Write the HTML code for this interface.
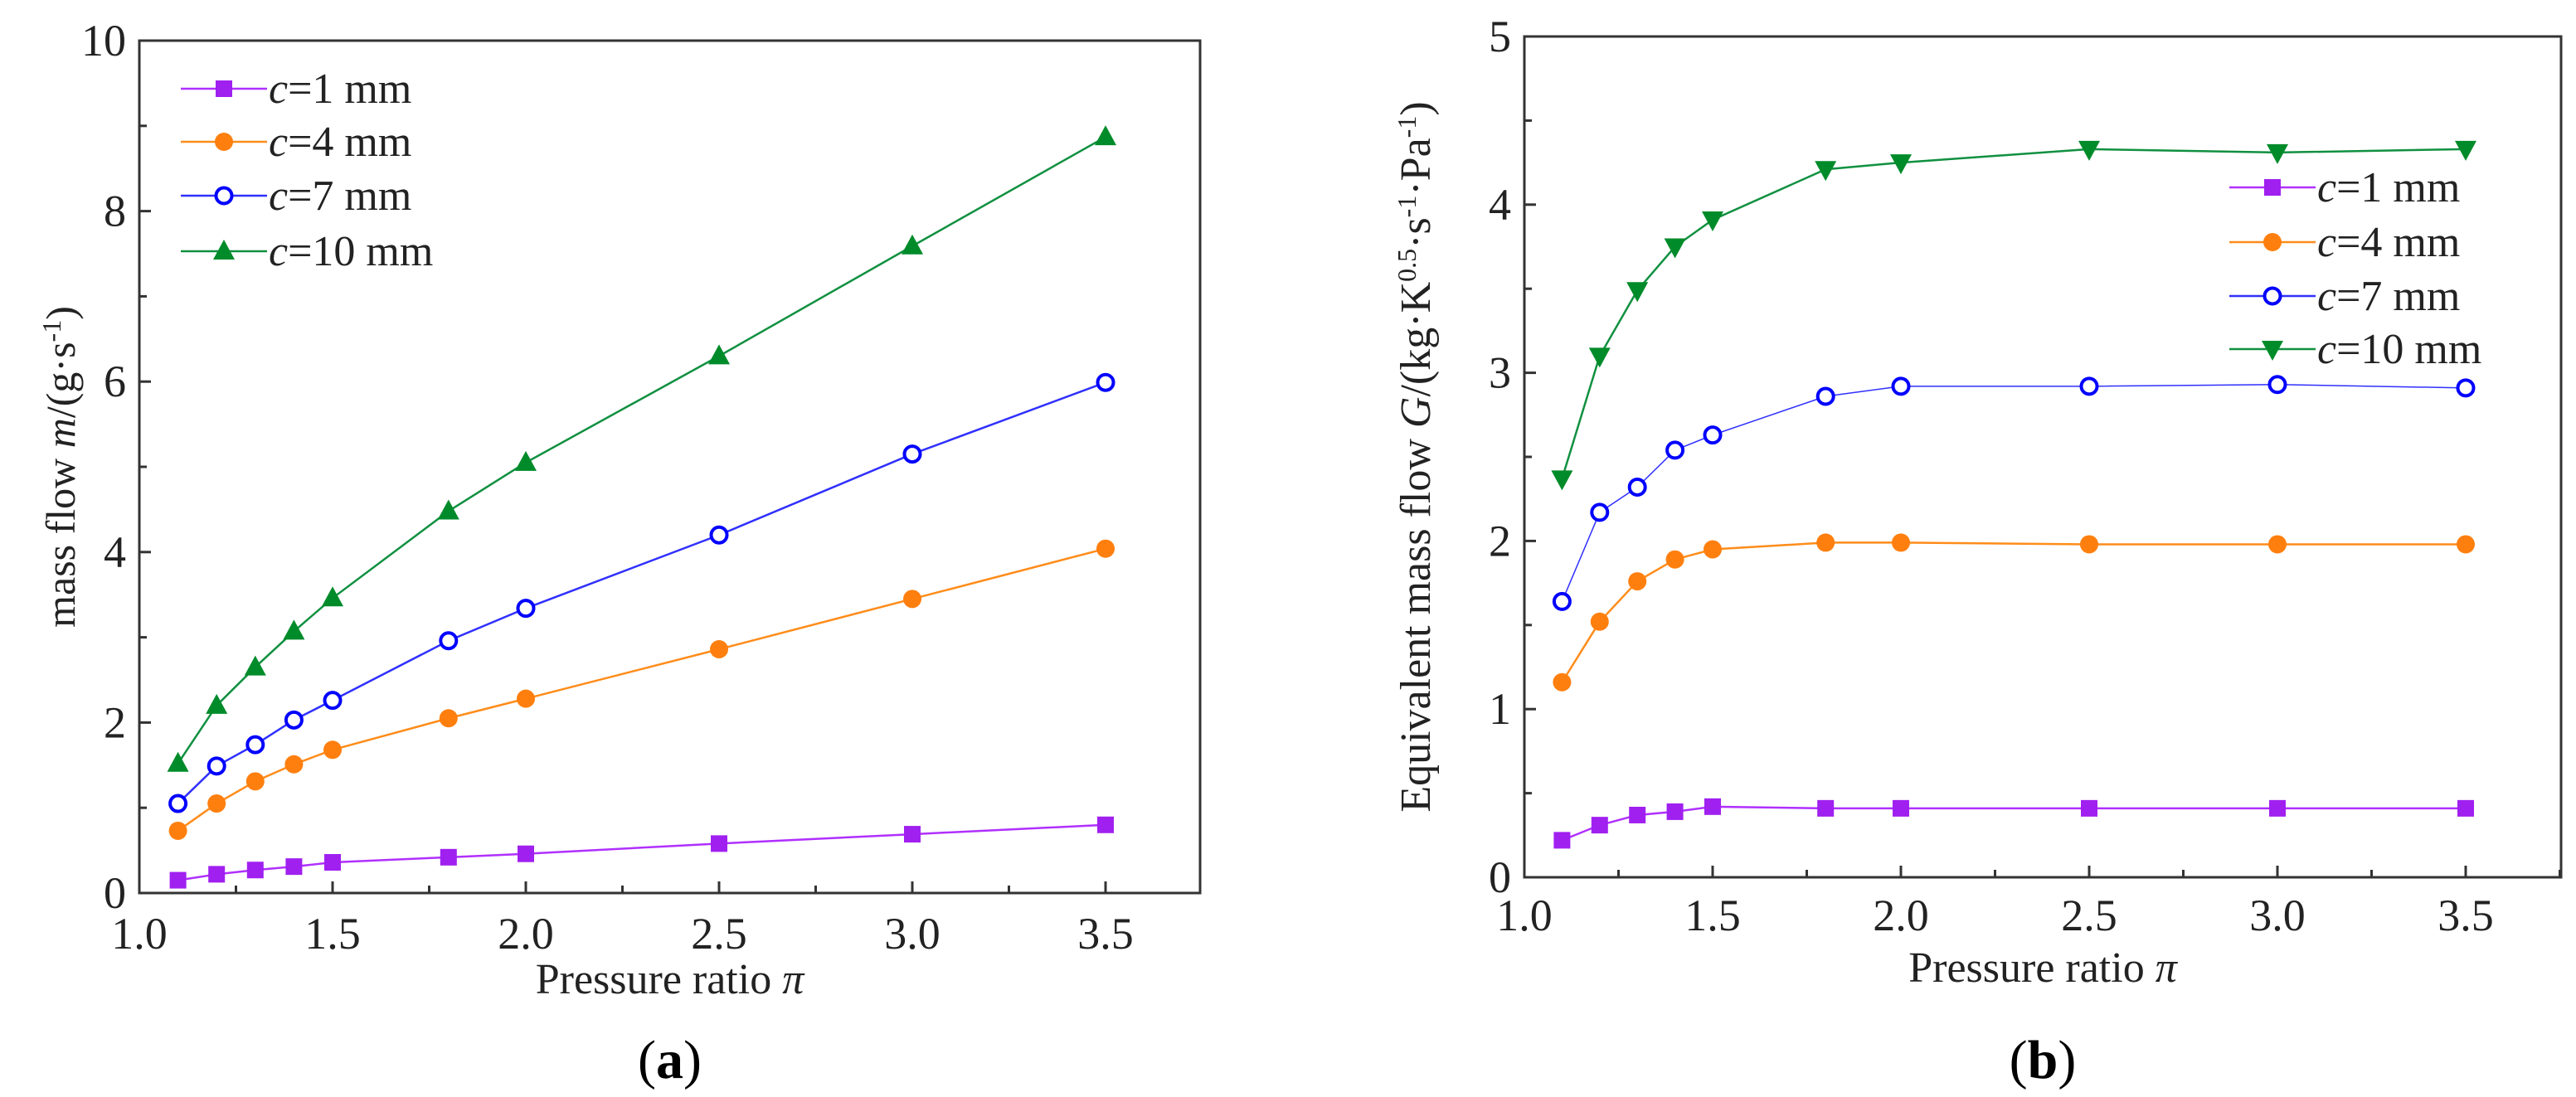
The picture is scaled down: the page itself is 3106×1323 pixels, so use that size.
<!DOCTYPE html>
<html><head><meta charset="utf-8"><style>
html,body{margin:0;padding:0;background:#fff;}
svg{display:block;font-family:"Liberation Serif",serif;}
</style></head><body>
<svg id="fig" width="3106" height="1323" viewBox="0 0 3106 1323" xmlns="http://www.w3.org/2000/svg"></svg>
<script>
const xVals=[1.1,1.2,1.3,1.4,1.5,1.8,2.0,2.5,3.0,3.5];
const seriesLabels=["1","4","7","10"];
const aC1=[0.15,0.22,0.27,0.31,0.36,0.42,0.46,0.58,0.69,0.80];
const aC4=[0.73,1.05,1.31,1.51,1.68,2.05,2.28,2.86,3.45,4.04];
const aC7=[1.05,1.49,1.74,2.03,2.26,2.96,3.34,4.20,5.15,5.99];
const aC10=[1.52,2.20,2.65,3.07,3.46,4.48,5.05,6.30,7.59,8.87];
const bC1=[0.22,0.31,0.37,0.39,0.42,0.41,0.41,0.41,0.41,0.41];
const bC4=[1.16,1.52,1.76,1.89,1.95,1.99,1.99,1.98,1.98,1.98];
const bC7=[1.64,2.17,2.32,2.54,2.63,2.86,2.92,2.92,2.93,2.91];
const bC10=[2.37,3.10,3.49,3.75,3.91,4.21,4.25,4.33,4.31,4.33];
const xTicks=["1.0","1.5","2.0","2.5","3.0","3.5"];
const aYTicks=["0","2","4","6","8","10"];
const bYTicks=["0","1","2","3","4","5"];

const NS="http://www.w3.org/2000/svg";
const svg=document.getElementById('fig');
function mk(tag,attrs,parent){const e=document.createElementNS(NS,tag);for(const k in attrs)e.setAttribute(k,attrs[k]);(parent||svg).appendChild(e);return e;}
const colors=["#a020f0","#ff7f0e","#0000ff","#008b2a"];
const lineColors=["#b030ff","#ff8c1a","#3030ff","#109040"];

function drawMarker(g,type,x,y,col){
  let m;
  if(type==="sq") m=mk('rect',{x:x-10,y:y-10,width:20,height:20,fill:col},g);
  else if(type==="dot") m=mk('circle',{cx:x,cy:y,r:11,fill:col},g);
  else if(type==="open") m=mk('circle',{cx:x,cy:y,r:9.5,fill:'#fff',stroke:col,'stroke-width':4},g);
  else if(type==="tri") m=mk('polygon',{points:`${x},${y-14} ${x-13},${y+10} ${x+13},${y+10}`,fill:col},g);
  else m=mk('polygon',{points:`${x},${y+14} ${x-13},${y-10} ${x+13},${y-10}`,fill:col},g);
  
  
}

function chart(o){
  const g=mk('g',{});
  
  
  const sx=v=>o.L+(v-1.0)*o.pxX;
  const sy=v=>o.B-(v/o.yMax)*(o.B-o.T);
  const f=mk('rect',{x:o.L,y:o.T,width:o.R-o.L,height:o.B-o.T,fill:'none',stroke:'#333',"stroke-width":3},g);
  
  for(let v=1.0;v<=o.xMax+1e-9;v+=0.25){
    const major=Math.abs(v*2-Math.round(v*2))<1e-6;
    mk('line',{x1:sx(v),x2:sx(v),y1:o.B,y2:o.B-(major?14:9),stroke:'#333','stroke-width':3},g);
  }
  xTicks.forEach(t=>{const el=mk('text',{x:sx(+t),y:o.xLabY,'font-size':54,'text-anchor':'middle',fill:'#222'},g);el.textContent=t;
    });
  const ymaj=o.yTicks.length-1, step=o.yMax/ymaj;
  for(let i=0;i<=ymaj*2;i++){const v=i*step/2;const major=i%2===0;
    mk('line',{x1:o.L,x2:o.L+(major?14:9),y1:sy(v),y2:sy(v),stroke:'#333','stroke-width':3},g);}
  o.yTicks.forEach(t=>{const el=mk('text',{x:o.L-16,y:sy(+t)+18,'font-size':54,'text-anchor':'end',fill:'#222'},g);el.textContent=t;
    });
  const xt=mk('text',{x:(o.L+o.R)/2,y:o.xTitY,'font-size':52,'text-anchor':'middle',fill:'#222'},g);
  xt.innerHTML='Pressure ratio <tspan font-style="italic">π</tspan>';
  
  const yt=mk('text',{transform:`translate(${o.yTitX},${(o.T+o.B)/2}) rotate(-90)`,'font-size':o.yTitSize,'text-anchor':'middle',fill:'#222'},g);
  yt.innerHTML=o.yTitle;
  
  const pl=mk('text',{x:(o.L+o.R)/2,y:o.panelY,'font-size':66,'text-anchor':'middle',fill:'#000'},g);
  pl.innerHTML=o.panel;
  
  o.series.forEach((s,si)=>{
    const sg=mk('g',{},g);
    
    
    const pts=xVals.map((x,i)=>sx(x)+','+sy(s[i])).join(' ');
    const pline=mk('polyline',{points:pts,fill:'none',stroke:lineColors[si],'stroke-width':si===2&&o.thin?1.5:2.5},sg);
    
    xVals.forEach((x,i)=>drawMarker(sg,o.markers[si],sx(x),sy(s[i]),colors[si]));
  });
  o.legY.forEach((ly,si)=>{
    const lg=mk('g',{},g);
    
    mk('line',{x1:o.legX,x2:o.legX+104,y1:ly,y2:ly,stroke:lineColors[si],'stroke-width':2.5},lg);
    drawMarker(lg,o.markers[si],o.legX+52,ly,colors[si]);
    const t=mk('text',{x:o.legX+106,y:ly+17,'font-size':52,fill:'#222'},lg);
    t.innerHTML='<tspan font-style="italic">c</tspan>='+seriesLabels[si]+' mm';
  });
}
chart({name:'chart-a',L:168,R:1447,T:49,B:1077,pxX:466,xMax:3.745,yMax:10,yTicks:aYTicks,
  xLabY:1144,xTitY:1198,yTitX:90,yTitSize:50,panelY:1300,panel:'(<tspan font-weight="bold">a</tspan>)',
  yTitle:'mass flow <tspan font-style="italic">m</tspan>/(g·s<tspan dy="-17" font-size="32">-1</tspan><tspan dy="17">)</tspan>',
  series:[aC1,aC4,aC7,aC10],markers:["sq","dot","open","tri"],legX:218,legY:[107,171,236,303]});
chart({name:'chart-b',L:1838,R:3088,T:44,B:1058,pxX:454,xMax:3.753,yMax:5,yTicks:bYTicks,
  xLabY:1122,xTitY:1184,yTitX:1724,yTitSize:52,panelY:1300,panel:'(<tspan font-weight="bold">b</tspan>)',thin:true,
  yTitle:'Equivalent mass flow <tspan font-style="italic">G</tspan>/(kg·K<tspan dy="-17" font-size="32">0.5</tspan><tspan dy="17">·s</tspan><tspan dy="-17" font-size="32">-1</tspan><tspan dy="17">·Pa</tspan><tspan dy="-17" font-size="32">-1</tspan><tspan dy="17">)</tspan>',
  series:[bC1,bC4,bC7,bC10],markers:["sq","dot","open","itri"],legX:2688,legY:[226,292,357,421]});
</script>
</body></html>
